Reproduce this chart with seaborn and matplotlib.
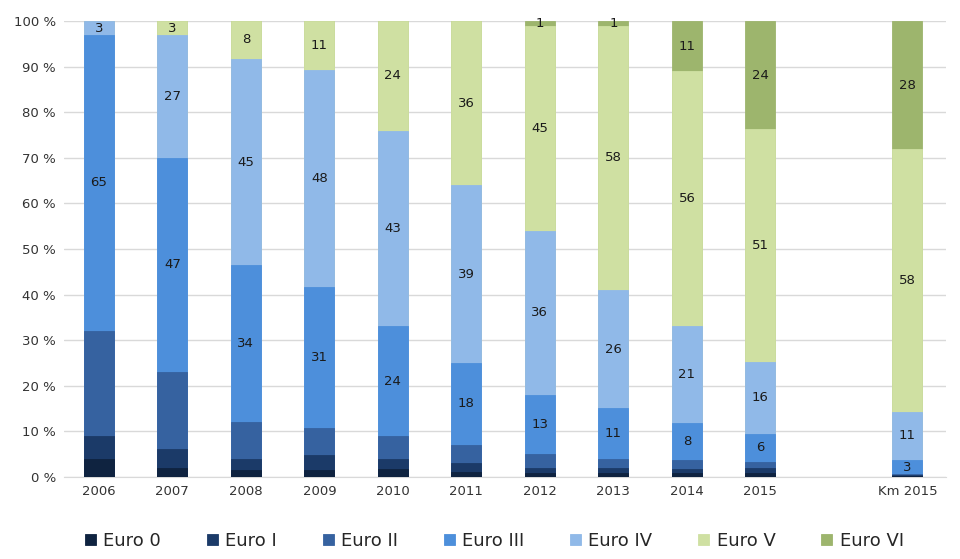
import pandas as pd
import numpy as np
import matplotlib.pyplot as plt
import seaborn as sns

# categories (empty slot keeps the gap before "Km 2015")
years = ["2006", "2007", "2008", "2009", "2010", "2011", "2012", "2013", "2014", "2015", "Km 2015"]
order = years[:10] + [" "] + ["Km 2015"]

classes = ["Euro 0", "Euro I", "Euro II", "Euro III", "Euro IV", "Euro V", "Euro VI"]

# shares in percent
euro0 = [4.0, 2.0, 1.6, 1.5, 1.8, 1.0, 0.8, 0.8, 0.8, 0.8, 0.2]
euro1 = [5.0, 4.0, 2.4, 3.3, 2.2, 2.0, 1.2, 1.2, 1.0, 1.2, 0.2]
euro2 = [23.0, 17.0, 8.0, 6.0, 5.0, 4.0, 3.0, 2.0, 2.0, 1.3, 0.2]
euro3 = [65.0, 47.0, 34.4, 30.9, 24.0, 18.0, 13.0, 11.0, 8.0, 6.2, 3.1]
euro4 = [3.0, 27.0, 45.4, 47.6, 43.0, 39.0, 36.0, 26.0, 21.2, 15.8, 10.6]
euro5 = [0.0, 3.0, 8.2, 10.7, 24.0, 36.0, 45.0, 58.0, 56.0, 51.1, 57.6]
euro6 = [0.0, 0.0, 0.0, 0.0, 0.0, 0.0, 1.0, 1.0, 11.0, 23.6, 28.1]

colors = ["#0f2340", "#1b3a68", "#3662a0", "#4d8fdb", "#90b9e8", "#cfe0a2", "#9db56d"]
labelled = ["Euro III", "Euro IV", "Euro V", "Euro VI"]

df = pd.DataFrame({"year": years, "Euro 0": euro0, "Euro I": euro1, "Euro II": euro2,
                   "Euro III": euro3, "Euro IV": euro4, "Euro V": euro5, "Euro VI": euro6})
cum = df[classes].cumsum(axis=1)

sns.set_style("white")
plt.rcParams['font.family'] = ['DejaVu Sans']
fig, ax = plt.subplots(figsize=(9.6, 5.59), dpi=100)

# draw cumulative totals from the top class down so each layer covers the one above
for cls, col in reversed(list(zip(classes, colors))):
    sns.barplot(x=df["year"], y=cum[cls], order=order, color=col, width=0.41,
                saturation=1, edgecolor=col, linewidth=0.6, ax=ax, label=cls, zorder=3)

# value labels in the middle of each segment
pos = {y: i for i, y in enumerate(order)}
for cls in labelled:
    for i, yr in enumerate(years):
        v = df.loc[i, cls]
        if v >= 0.5:
            mid = cum.loc[i, cls] - v / 2
            ax.text(pos[yr], mid, f"{round(v)}", ha="center", va="center",
                    fontsize=9.5, color="#1a1a1a", zorder=5)

ax.set_ylim(0, 100)
ax.set_xlim(-0.47, len(order) - 0.48)
ax.set_yticks(np.arange(0, 101, 10))
ax.set_yticklabels([f"{t} %" for t in range(0, 101, 10)], fontsize=9.5, color="#333333")
ax.set_xticks(range(len(order)))
ax.set_xticklabels(order, fontsize=9.5, color="#333333")
ax.tick_params(axis="both", length=0, pad=6)
ax.yaxis.grid(True, color="#d9d9d9", linewidth=1, zorder=0)
ax.set_axisbelow(True)
for s in ["top", "right", "left"]:
    ax.spines[s].set_visible(False)
ax.spines["bottom"].set_color("#d9d9d9")
ax.set_xlabel("")
ax.set_ylabel("")

handles, labels = ax.get_legend_handles_labels()
hmap = dict(zip(labels, handles))
ax.legend([hmap[c] for c in classes], classes, loc="upper center", bbox_to_anchor=(0.488, -0.085),
          ncol=7, frameon=False, fontsize=13, handlelength=0.6, handleheight=0.6,
          handletextpad=0.4, columnspacing=2.55)

fig.subplots_adjust(left=0.067, right=0.985, top=0.962, bottom=0.147)
fig.savefig("out.png", dpi=100)
